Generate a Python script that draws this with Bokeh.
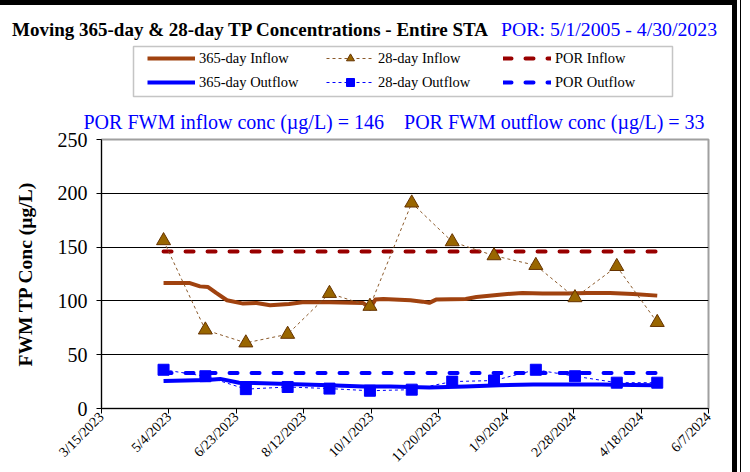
from datetime import datetime

from bokeh.plotting import figure
from bokeh.layouts import column, row
from bokeh.models import (Range1d, FixedTicker, Legend, LegendItem, Title, Div,
                          BoxAnnotation)
from bokeh.embed import file_html
from bokeh.resources import INLINE

# ---------------- data ----------------
x_tick_labels = ["3/15/2023", "5/4/2023", "6/23/2023", "8/12/2023", "10/1/2023",
                 "11/20/2023", "1/9/2024", "2/28/2024", "4/18/2024", "6/7/2024"]
y_ticks = [0, 50, 100, 150, 200, 250]

month_dates = ["2023-04-30", "2023-05-31", "2023-06-30", "2023-07-31", "2023-08-31",
               "2023-09-30", "2023-10-31", "2023-11-30", "2023-12-31", "2024-01-31",
               "2024-02-29", "2024-03-31", "2024-04-30"]
inflow_28 = [156, 73, 61, 69, 107, 95, 191, 155, 142, 133, 103, 132, 80]
outflow_28 = [36, 30, 18, 20, 18.5, 16.5, 17.5, 25, 26, 36, 30, 24, 24]

inflow_365_dates = ["2023-04-30", "2023-05-19", "2023-05-27", "2023-06-02", "2023-06-08",
                    "2023-06-16", "2023-06-28", "2023-07-08", "2023-07-18", "2023-08-01",
                    "2023-08-11", "2023-08-31", "2023-09-25", "2023-09-30", "2023-10-04",
                    "2023-10-10", "2023-10-30", "2023-11-08", "2023-11-13", "2023-11-18",
                    "2023-12-10", "2023-12-18", "2024-01-04", "2024-01-21", "2024-02-05",
                    "2024-02-23", "2024-03-09", "2024-03-26", "2024-04-12", "2024-04-30"]
inflow_365 = [116.7, 116.7, 113.5, 112.9, 107.4, 100.6, 97.5, 98.1, 95.9, 97.2,
              98.7, 98.7, 98.0, 93.0, 101.2, 101.8, 100.6, 99.3, 98.2, 101.2,
              101.8, 103.7, 105.8, 107.4, 106.8, 106.8, 107.4, 107.4, 106.5, 104.9]

outflow_365_dates = ["2023-04-30", "2023-06-01", "2023-06-11", "2023-06-25", "2023-07-13",
                     "2023-08-06", "2023-08-31", "2023-09-25", "2023-10-15", "2023-11-13",
                     "2023-12-10", "2024-01-04", "2024-01-29", "2024-02-23", "2024-03-19",
                     "2024-04-12", "2024-04-30"]
outflow_365 = [25.6, 26.5, 27.5, 24.0, 23.5, 22.5, 21.6, 20.4, 20.4, 19.6,
               20.4, 21.6, 22.2, 22.2, 22.2, 21.9, 21.6]

por_dates = ["2023-04-30", "2024-04-30"]
por_inflow = 146
por_outflow = 33

title_main = "Moving 365-day &amp; 28-day TP Concentrations - Entire STA"
title_por = "POR: 5/1/2005 - 4/30/2023"
y_label = "FWM TP Conc (\u00b5g/L)"

# ---------------- helpers ----------------
def to_dt(s):
    return datetime.strptime(s, "%Y-%m-%d")

def lbl_dt(s):
    return datetime.strptime(s, "%m/%d/%Y")

def ms(d):
    return (d - datetime(1970, 1, 1)).total_seconds() * 1000.0

FONT = "Liberation Serif"
BROWN = "#A0420F"
DKRED = "#990000"
BLUE = "#0000FF"
W = 732
FL, FR = 101, 708          # plot frame left / right edge (px)

tick_dates = [lbl_dt(s) for s in x_tick_labels]
tick_ms = [ms(d) for d in tick_dates]
md = [to_dt(s) for s in month_dates]
pd_ = [to_dt(s) for s in por_dates]
in365_d = [to_dt(s) for s in inflow_365_dates]
out365_d = [to_dt(s) for s in outflow_365_dates]


def draw_series(fig):
    r = {}
    r["por_in"] = fig.line(pd_, [por_inflow] * len(pd_), line_color=DKRED, line_width=4,
                           line_dash="8 14", line_cap="round")
    r["por_out"] = fig.line(pd_, [por_outflow] * len(pd_), line_color=BLUE, line_width=4,
                            line_dash="8 14", line_cap="round")
    r["in365"] = fig.line(in365_d, inflow_365, line_color=BROWN, line_width=4,
                          line_join="round")
    r["out365"] = fig.line(out365_d, outflow_365, line_color=BLUE, line_width=4,
                           line_join="round")
    r["in28_l"] = fig.line(md, inflow_28, line_color="#8B5A2B", line_width=1,
                           line_dash="3 3")
    r["out28_l"] = fig.line(md, outflow_28, line_color=BLUE, line_width=1,
                            line_dash="3 3")
    r["in28_m"] = fig.scatter(md, inflow_28, marker="triangle", size=14,
                              fill_color="#996600", line_color="#663300", line_width=1)
    r["out28_m"] = fig.scatter(md, outflow_28, marker="square", size=11,
                               fill_color=BLUE, line_color=BLUE)
    return r


# ---------------- header (title line) ----------------
header_html = (
    f'<div style="width:{W}px;height:40px;box-sizing:border-box;border-top:5px solid black;'
    'padding-top:13px;padding-left:12px;white-space:nowrap;line-height:22px;'
    "font-family:'Liberation Serif';font-size:19.8px;\">"
    '<span style="font-weight:bold;font-size:19px;color:black;">' + title_main + '</span>'
    '<span style="color:#0000FF;margin-left:13px;">' + title_por + '</span></div>'
)
header = Div(text=header_html, width=W, height=40, margin=0)

# ---------------- legend strip ----------------
LH = 62
leg = figure(width=W, height=LH, x_range=Range1d(FL, FR), y_range=Range1d(LH, 0),
             output_backend="svg", toolbar_location=None,
             x_axis_location=None, y_axis_location=None,
             min_border_left=FL, min_border_right=W - FR, min_border_top=0,
             min_border_bottom=0, margin=0)
leg.outline_line_color = None
leg.grid.visible = False
leg.background_fill_color = "white"
leg.border_fill_color = "white"
lr = draw_series(leg)   # same data; lies far outside this strip's ranges

leg.add_layout(BoxAnnotation(left=133, right=672, top=6, bottom=56,
                             fill_color="white", fill_alpha=1,
                             line_color="#404040", line_width=1.5))


def make_legend(items, x):
    return Legend(items=items, location=(x - FL, 10), orientation="vertical",
                  border_line_color=None, background_fill_alpha=0,
                  padding=0, margin=0, spacing=4, glyph_width=48, glyph_height=20,
                  label_height=20, label_standoff=4, label_text_font=FONT,
                  label_text_font_size="14.5px", label_text_color="black")


leg.add_layout(make_legend([LegendItem(label="365-day Inflow", renderers=[lr["in365"]]),
                            LegendItem(label="365-day Outflow", renderers=[lr["out365"]])],
                           147))
leg.add_layout(make_legend([LegendItem(label="28-day Inflow",
                                       renderers=[lr["in28_l"], lr["in28_m"]]),
                            LegendItem(label="28-day Outflow",
                                       renderers=[lr["out28_l"], lr["out28_m"]])],
                           326))
leg.add_layout(make_legend([LegendItem(label="POR Inflow", renderers=[lr["por_in"]]),
                            LegendItem(label="POR Outflow", renderers=[lr["por_out"]])],
                           503))

# ---------------- main figure ----------------
MH = 472 - 40 - LH
p = figure(width=W, height=MH, x_axis_type="datetime",
           x_range=Range1d(tick_dates[0], tick_dates[-1]),
           y_range=Range1d(y_ticks[0], y_ticks[-1]),
           output_backend="svg", toolbar_location=None,
           min_border_left=FL, min_border_right=W - FR,
           min_border_top=37, min_border_bottom=MH - 37 - 270, margin=0)
p.background_fill_color = "white"
p.border_fill_color = "white"
p.outline_line_color = "#a0a0a0"
p.outline_line_width = 2

p.xaxis.ticker = FixedTicker(ticks=tick_ms)
p.xaxis.major_label_overrides = {t: s for t, s in zip(tick_ms, x_tick_labels)}
p.xaxis.major_label_orientation = 0.7853981633974483
p.xaxis.major_label_text_font = FONT
p.xaxis.major_label_text_font_size = "14px"
p.xaxis.major_label_text_color = "black"
p.xaxis.major_label_standoff = 1
p.xaxis.major_tick_in = 0
p.xaxis.major_tick_out = 5
p.xaxis.minor_tick_line_color = None
p.xaxis.axis_line_color = "black"
p.xaxis.major_tick_line_color = "black"
p.xgrid.grid_line_color = None

p.yaxis.ticker = FixedTicker(ticks=y_ticks)
p.yaxis.major_label_text_font = FONT
p.yaxis.major_label_text_font_size = "20px"
p.yaxis.major_label_text_color = "black"
p.yaxis.major_label_standoff = 9
p.yaxis.major_tick_in = 0
p.yaxis.major_tick_out = 5
p.yaxis.minor_tick_line_color = None
p.yaxis.axis_line_color = "black"
p.yaxis.major_tick_line_color = "black"
p.yaxis.axis_label = y_label
p.yaxis.axis_label_text_font = FONT
p.yaxis.axis_label_text_font_style = "bold"
p.yaxis.axis_label_text_font_size = "19.5px"
p.yaxis.axis_label_text_color = "black"
p.yaxis.axis_label_standoff = 19
p.ygrid.grid_line_color = "black"
p.ygrid.grid_line_width = 1

draw_series(p)

p.add_layout(Title(text=f"POR FWM inflow conc (\u00b5g/L) = {por_inflow}" + "\u00a0" * 4 +
                   f"POR FWM outflow conc (\u00b5g/L) = {por_outflow}",
                   align="left", offset=-18, standoff=13, text_font=FONT,
                   text_font_size="20px", text_font_style="normal", text_color=BLUE),
             "above")

bar = Div(text="", width=5, height=472, margin=0, styles={"background-color": "black"})
gap = Div(text="", width=3, height=472, margin=0)
thin = Div(text="", width=1, height=472, margin=0, styles={"background-color": "black"})
layout = row(column(header, leg, p, spacing=0, margin=0), bar, gap, thin,
             spacing=0, margin=0)
open("out.html", "w").write(file_html(layout, INLINE))
